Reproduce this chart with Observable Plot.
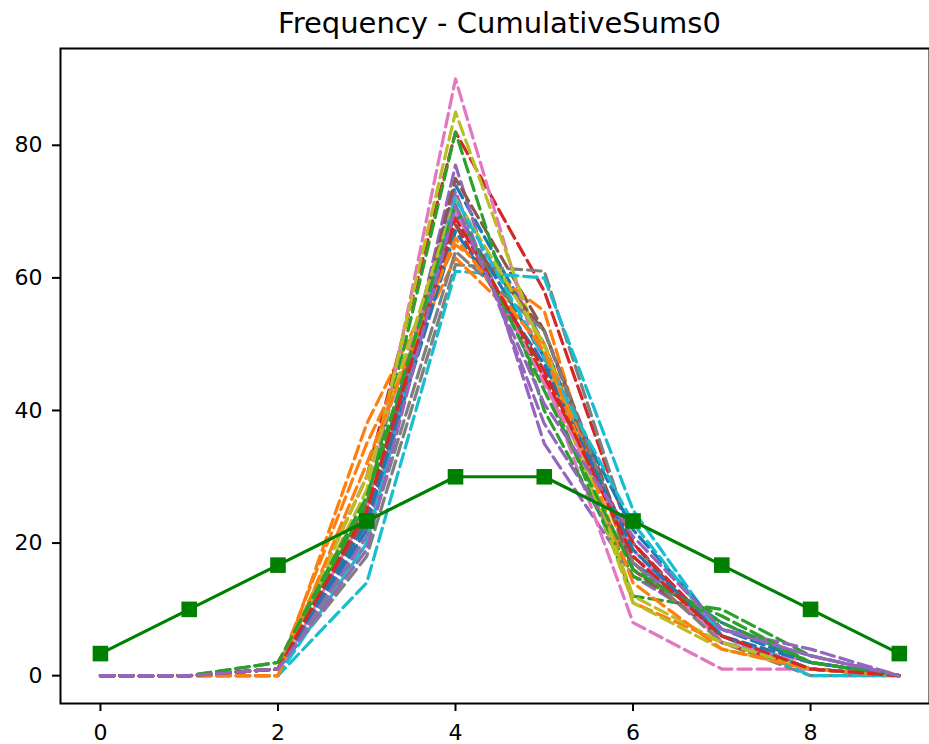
<!DOCTYPE html>
<html>
<head>
<meta charset="utf-8">
<script src="https://cdn.jsdelivr.net/npm/d3@7"></script>
<script src="https://cdn.jsdelivr.net/npm/@observablehq/plot@0.6"></script>
<style>
  html, body { margin: 0; padding: 0; background: #fff; }
  #title { height: 47px; width: 929px; font-family: "DejaVu Sans", sans-serif; font-size: 29px; text-align: center; line-height: 29px; padding-top: 9px; color: #000; padding-left: 70px; box-sizing: border-box; white-space: nowrap; }
  #chart svg { display: block; }
</style>
</head>
<body>
<div id="title">Frequency - CumulativeSums0</div>
<div id="chart"></div>
<script>
const xs = [0, 1, 2, 3, 4, 5, 6, 7, 8, 9];
const xTicks = [0, 2, 4, 6, 8];
const yTicks = [0, 20, 40, 60, 80];
const expected = [3.33, 10, 16.67, 23.33, 30, 30, 23.33, 16.67, 10, 3.33];
const palette = ["#1f77b4", "#ff7f0e", "#2ca02c", "#d62728", "#9467bd", "#8c564b", "#e377c2", "#7f7f7f", "#bcbd22", "#17becf"];
const runs = [
  [0, 0, 1, 24, 74, 50, 17, 8, 2, 0],
  [0, 0, 0, 38, 65, 55, 11, 5, 1, 0],
  [0, 0, 2, 26, 70, 45, 12, 10, 3, 0],
  [0, 0, 1, 30, 82, 58, 20, 6, 1, 0],
  [0, 0, 1, 20, 77, 35, 15, 7, 4, 0],
  [0, 0, 1, 22, 75, 52, 18, 6, 1, 0],
  [0, 0, 0, 25, 90, 45, 8, 1, 1, 0],
  [0, 0, 1, 18, 62, 61, 20, 5, 0, 0],
  [0, 0, 1, 28, 85, 48, 11, 4, 1, 0],
  [0, 0, 0, 14, 61, 60, 25, 6, 0, 0],
  [0, 0, 1, 22, 70, 48, 22, 7, 2, 0],
  [0, 0, 1, 35, 63, 50, 16, 6, 1, 0],
  [0, 0, 1, 26, 82, 40, 15, 9, 2, 0],
  [0, 0, 1, 24, 68, 45, 20, 5, 1, 0],
  [0, 0, 1, 21, 73, 38, 17, 7, 3, 0],
  [0, 0, 1, 24, 68, 52, 16, 6, 1, 0],
  [0, 0, 1, 30, 70, 44, 19, 5, 2, 0],
  [0, 0, 1, 20, 64, 52, 17, 5, 1, 0],
  [0, 0, 1, 30, 72, 50, 12, 5, 1, 0],
  [0, 0, 0, 20, 72, 48, 23, 6, 1, 0],
  [0, 0, 1, 23, 67, 47, 19, 6, 2, 0],
  [0, 0, 0, 32, 66, 49, 14, 4, 1, 0],
  [0, 0, 2, 27, 71, 43, 16, 8, 2, 0],
  [0, 0, 1, 25, 69, 46, 18, 6, 1, 0],
  [0, 0, 1, 19, 71, 41, 21, 7, 3, 0]
];

const runRows = runs.flatMap((vals, i) => vals.map((v, j) => ({run: i, x: xs[j], y: v, color: palette[i % palette.length]})));
const expRows = expected.map((v, j) => ({x: xs[j], y: v}));

const chart = Plot.plot({
  width: 929,
  height: 697,
  marginTop: 1,
  marginBottom: 41,
  marginLeft: 60,
  marginRight: 0,
  style: {fontFamily: "DejaVu Sans, sans-serif", fontSize: "22px", color: "#000", background: "#fff"},
  x: {domain: [-0.45, 9.34], ticks: xTicks, label: null},
  y: {domain: [-4.2, 94.6], ticks: yTicks, label: null},
  marks: [
    Plot.line(runRows, {x: "x", y: "y", z: "run", stroke: "color", strokeWidth: 3.2, strokeDasharray: "13.5,5.9", strokeLinejoin: "round"}),
    Plot.line(expRows, {x: "x", y: "y", stroke: "#008000", strokeWidth: 3.2}),
    Plot.dot(expRows, {x: "x", y: "y", symbol: "square", r: 8.8, fill: "#008000", stroke: "none"}),
    Plot.frame({stroke: "#000", strokeWidth: 2}),
    Plot.axisX({ticks: xTicks, tickSize: 8, tickPadding: 13, fontSize: 22, label: null, stroke: "#000", strokeWidth: 2}),
    Plot.axisY({ticks: yTicks, tickSize: 8, tickPadding: 10, fontSize: 22, label: null, stroke: "#000", strokeWidth: 2})
  ]
});
document.getElementById("chart").appendChild(chart);
</script>
</body>
</html>
